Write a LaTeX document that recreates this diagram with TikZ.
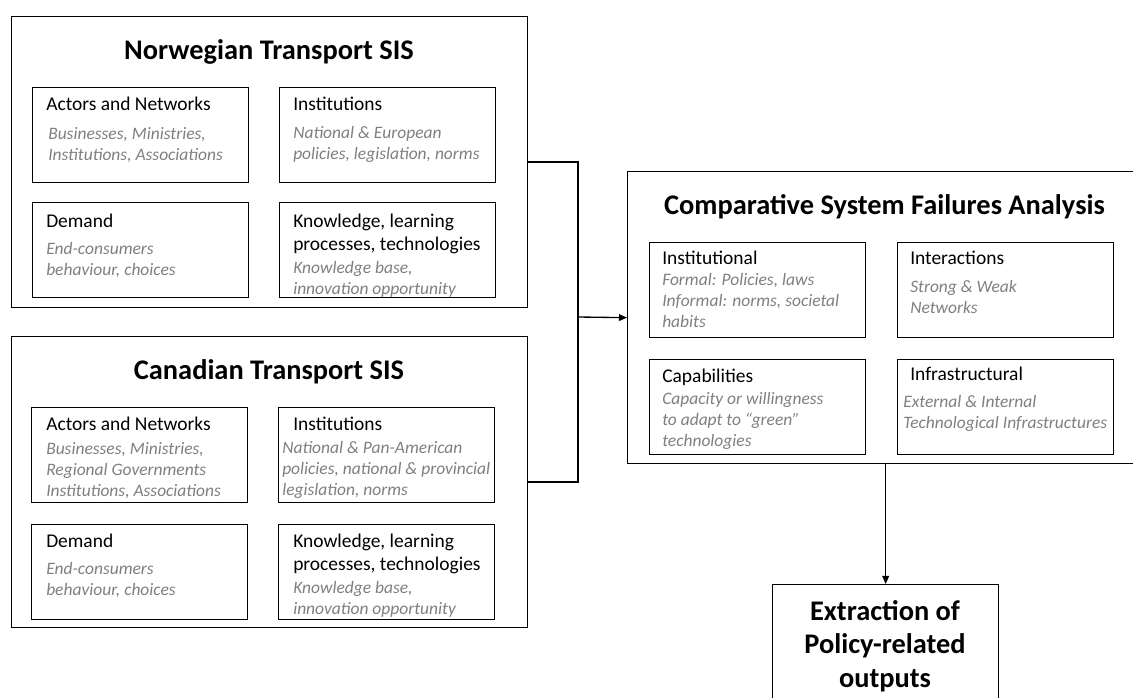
\documentclass[tikz,border=0pt]{standalone}
\usepackage{fontspec}
\setmainfont{Carlito}
\usepackage{xcolor}
\usetikzlibrary{arrows.meta}
\definecolor{notegray}{HTML}{7F7F7F}

\begin{document}
\begin{tikzpicture}[x=0.75pt,y=-0.75pt,
  frame/.style={draw,line width=1pt,anchor=north west,inner sep=0pt},
  outer/.style={frame,minimum width=387pt,minimum height=218.25pt},
  cell/.style={frame,minimum width=162pt,minimum height=71.25pt},
  title/.style={anchor=base,inner sep=0pt,font=\fontsize{21.3}{25}\selectfont\bfseries},
  head/.style={anchor=base west,inner sep=0pt,align=left,font=\fontsize{14.6}{17.25}\selectfont},
  note/.style={anchor=base west,inner sep=0pt,align=left,text=notegray,font=\fontsize{13.1}{16.1}\selectfont\itshape},
  link/.style={line width=1pt},
  arr/.style={link,-{Triangle[length=6pt,width=5pt]}}]
\useasboundingbox (0,0) rectangle (1133,698);

% Norwegian system (text nodes sit on their last baseline)
\node[outer] (norw) at (11,16) {};
\node[title] (norwT) at (269,60) {Norwegian Transport SIS};
\node[cell] (nAct) at (32,87) {};
\node[head] (nActH) at (46,111) {Actors and Networks};
\node[note] (nActN) at (48,161) {Businesses, Ministries,\\Institutions, Associations};
\node[cell] (nInst) at (279,87) {};
\node[head] (nInstH) at (293,111) {Institutions};
\node[note] (nInstN) at (293,160) {National \& European\\policies, legislation, norms};
\node[cell] (nDem) at (32,202) {};
\node[head] (nDemH) at (46,228) {Demand};
\node[note] (nDemN) at (46,276) {End-consumers\\behaviour, choices};
\node[cell] (nKnow) at (279,202) {};
\node[head] (nKnowH) at (293,251) {Knowledge, learning\\processes, technologies};
\node[note] (nKnowN) at (293,295) {Knowledge base,\\innovation opportunity};

% Canadian system
\node[outer] (can) at (11,336) {};
\node[title] (canT) at (269,380) {Canadian Transport SIS};
\node[cell] (cAct) at (31,407) {};
\node[head] (cActH) at (46,431) {Actors and Networks};
\node[note] (cActN) at (46,497) {Businesses, Ministries,\\Regional Governments\\Institutions, Associations};
\node[cell] (cInst) at (278,407) {};
\node[head] (cInstH) at (293,431) {Institutions};
\node[note] (cInstN) at (282,496) {National \& Pan-American\\policies, national \& provincial\\legislation, norms};
\node[cell] (cDem) at (31,524) {};
\node[head] (cDemH) at (46,548) {Demand};
\node[note] (cDemN) at (46,596) {End-consumers\\behaviour, choices};
\node[cell] (cKnow) at (278,524) {};
\node[head] (cKnowH) at (293,571) {Knowledge, learning\\processes, technologies};
\node[note] (cKnowN) at (293,615) {Knowledge base,\\innovation opportunity};

% comparative analysis (right edge runs off the page)
\node[frame,minimum width=415pt,minimum height=219pt] (comp) at (627,171) {};
\node[title] (compT) at (884.5,215) {Comparative System Failures Analysis};
\node[cell] (fInst) at (649,242) {};
\node[head] (fInstH) at (662,265) {Institutional};
\node[note] (fInstN) at (662,328) {Formal: Policies, laws\\Informal: norms, societal\\habits};
\node[cell] (fInter) at (897,242) {};
\node[head] (fInterH) at (910,265) {Interactions};
\node[note] (fInterN) at (910,314) {Strong \& Weak\\Networks};
\node[cell] (fCap) at (649,359) {};
\node[head] (fCapH) at (662,383) {Capabilities};
\node[note] (fCapN) at (662,447) {Capacity or willingness\\to adapt to “green”\\technologies};
\node[cell] (fInfra) at (897,359) {};
\node[head] (fInfraH) at (910,381) {Infrastructural};
\node[note] (fInfraN) at (903,429) {External \& Internal\\Technological Infrastructures};

% outputs
\node[frame,minimum width=169.5pt,minimum height=90.75pt] (extr) at (772,584) {};
\node[title,align=center] (extrT) at (885,687) {Extraction of\\Policy-related\\outputs};

\coordinate (jn) at (578,317);
\draw[link] (norw.east) -| (jn) |- (can.east);
\draw[arr] (jn) -- (comp.west);
\draw[arr] (comp.south -| extr.north) -- (extr.north);

\end{tikzpicture}
\end{document}
